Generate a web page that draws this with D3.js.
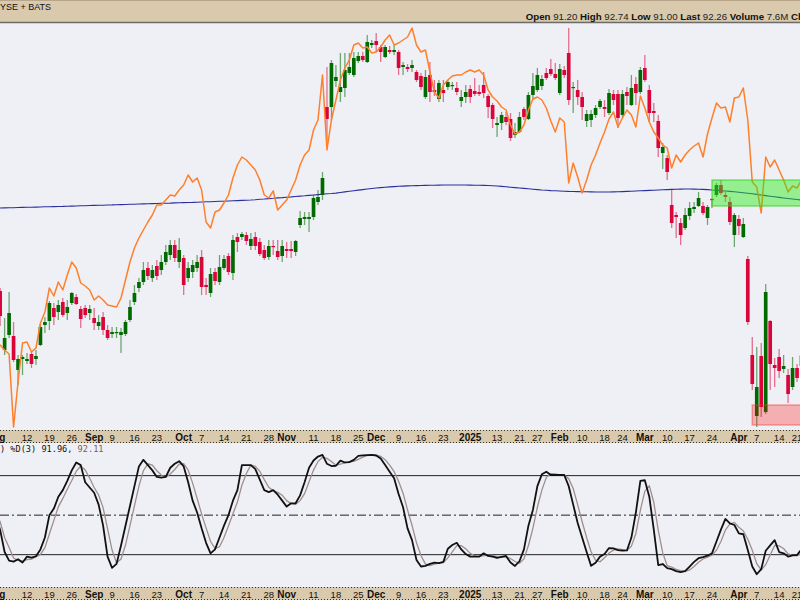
<!DOCTYPE html>
<html><head><meta charset="utf-8">
<script src="https://cdn.jsdelivr.net/npm/d3@7"></script>
<style>body{margin:0;background:#eff0f5;}svg{display:block}</style>
</head><body><svg id="c" width="800" height="600"></svg>
<script>
// ---- categories: trading days (Aug 1 2024 .. Apr 22 2025)
const tradingMonths = ["2024-08","2024-09","2024-10","2024-11","2024-12","2025-01","2025-02","2025-03","2025-04"];
const tradingDays = [
  [1,2,5,6,7,8,9,12,13,14,15,16,19,20,21,22,23,26,27,28,29,30],
  [3,4,5,6,9,10,11,12,13,16,17,18,19,20,23,24,25,26,27,30],
  [1,2,3,4,7,8,9,10,11,14,15,16,17,18,21,22,23,24,25,28,29,30,31],
  [1,4,5,6,7,8,11,12,13,14,15,18,19,20,21,22,25,26,27,29],
  [2,3,4,5,6,9,10,11,12,13,16,17,18,19,20,23,24,26,27,30,31],
  [2,3,6,7,8,10,13,14,15,16,17,21,22,23,24,27,28,29,30,31],
  [3,4,5,6,7,10,11,12,13,14,18,19,20,21,24,25,26,27,28],
  [3,4,5,6,7,10,11,12,13,14,17,18,19,20,21,24,25,26,27,28,31],
  [1,2,3,4,7,8,9,10,11,14,15,16,17,21,22]
];
const dates = tradingMonths.flatMap((m,k)=>tradingDays[k].map(d=>m+"-"+String(d).padStart(2,"0")));

// ---- price series
const open = [100.5,
 98.7,92.8,94.3,94.2,90.8,91.9,
 91.7,92.4,91.9,93.3,95.3,95.7,97.0,96.6,97.6,96.5,
 97.5,98.1,96.9,97.0,96.5,96.0,95.2,96.1,94.8,94.4,
 94.5,94.3,94.4,95.8,97.6,99.0,99.6,101.0,100.0,101.2,
 100.8,101.6,102.3,103.3,101.6,102.0,100.0,100.6,101.0,102.1,
 99.3,98.5,100.6,99.6,101.0,102.2,100.5,104.1,104.1,104.3,
 103.2,104.1,103.6,102.8,102.1,103.2,102.7,102.2,102.9,102.9,
 102.6,105.3,105.9,105.9,106.1,107.6,108.3,117.1,117.1,119.7,
 118.6,119.0,120.5,120.3,121.7,122.2,121.6,123.3,123.7,123.1,
 122.1,122.8,122.6,122.6,121.1,121.1,121.0,120.6,120.2,118.1,
 120.3,118.8,117.9,118.8,119.1,119.2,119.0,117.7,118.1,118.9,
 118.7,118.6,119.3,118.2,117.3,115.3,115.5,116.1,115.9,114.3,
 114.6,116.9,115.9,118.3,118.8,119.2,120.5,120.9,120.4,118.5,
 120.8,122.5,119.0,118.8,118.1,115.7,115.8,116.3,117.1,117.1,
 116.5,118.4,118.4,116.3,118.6,117.3,119.4,118.6,121.0,118.8,
 116.7,115.7,112.5,112.0,107.3,106.3,105.5,105.0,106.2,106.9,
 107.2,107.2,106.0,107.9,108.3,109.3,108.3,107.6,104.3,105.9,
 104.1,101.9,92.3,86.2,92.2,86.6,95.7,91.3,92.1,90.9,
 90.3,89.1,91.0,91.20];
const high = [101.5,
 99.0,96.0,98.6,95.6,92.3,92.3,
 92.5,92.6,92.8,95.4,96.1,97.7,97.5,97.8,98.0,97.8,
 98.6,98.4,97.2,97.3,97.3,97.0,96.3,96.6,95.3,95.1,
 95.1,95.0,95.8,97.8,99.3,100.0,101.6,101.6,101.3,101.8,
 102.3,103.3,103.8,103.8,104.0,102.3,101.6,101.8,102.3,102.8,
 100.0,101.0,101.0,102.3,102.3,102.5,104.3,104.5,104.6,104.6,
 104.5,104.6,104.0,103.3,103.8,103.8,103.8,103.8,103.6,103.7,
 103.8,106.7,106.6,106.6,108.3,108.8,110.6,121.1,121.8,121.3,
 122.5,122.5,122.5,122.6,122.6,122.6,124.3,123.8,124.5,123.3,
 123.3,123.2,123.3,122.8,121.6,121.4,121.8,120.8,120.5,120.8,
 121.6,119.8,119.8,119.8,119.8,119.6,119.6,118.8,119.3,119.3,
 120.0,119.3,120.6,118.4,117.5,116.1,116.6,116.6,116.5,115.5,
 116.6,117.1,118.6,120.5,121.0,120.3,121.0,121.9,121.5,121.4,
 121.2,125.0,119.6,119.8,118.6,116.8,116.8,117.3,117.9,117.8,
 118.9,118.8,118.8,118.8,119.1,120.3,120.1,121.1,122.3,119.3,
 117.5,116.3,113.5,112.3,108.8,106.6,106.0,107.0,107.6,107.6,
 108.6,107.6,107.3,108.0,109.5,109.8,108.6,108.1,106.5,106.3,
 106.0,102.2,94.1,93.1,93.5,99.4,95.8,92.0,92.9,92.3,
 90.9,92.1,91.4,92.74];
const low = [98.0,
 95.2,92.3,94.0,91.6,89.3,90.3,
 91.4,91.0,91.3,93.2,94.5,94.8,95.3,95.8,96.1,95.8,
 97.3,97.3,95.0,96.0,95.8,94.8,94.8,94.3,93.8,94.0,
 94.0,92.5,94.2,95.6,97.3,98.6,99.3,99.8,99.6,99.8,
 100.3,101.3,101.8,101.6,101.0,98.3,99.6,100.0,100.6,98.3,
 98.3,98.1,99.3,99.3,100.8,100.3,99.8,102.6,103.8,103.3,
 102.8,102.8,102.2,101.8,101.8,102.3,101.8,101.6,102.0,102.0,
 102.2,105.0,105.3,104.6,105.8,107.3,107.8,113.3,115.8,119.1,
 117.6,118.1,120.3,120.1,121.5,121.6,121.5,123.0,122.6,121.6,
 122.0,122.4,122.3,120.3,120.3,120.6,120.6,119.6,118.8,117.9,
 117.6,118.2,117.6,117.6,118.8,118.8,118.3,117.1,117.5,117.5,
 118.2,118.2,118.0,116.0,115.0,114.1,114.8,115.3,113.7,114.0,
 114.5,115.8,115.8,117.8,118.6,118.8,119.8,120.2,119.8,118.3,
 120.0,117.3,116.5,117.3,115.8,115.1,115.1,116.0,116.9,116.1,
 116.3,117.3,115.0,116.0,117.3,117.2,117.3,118.4,119.6,115.6,
 115.6,112.1,110.9,109.8,105.0,104.0,103.3,104.8,105.8,106.5,
 107.1,106.3,105.3,107.0,108.1,108.3,107.6,105.3,103.1,104.3,
 104.0,95.3,88.8,85.1,86.1,86.4,88.8,89.1,90.0,90.5,
 87.5,88.8,89.6,91.00];
const close = [99.0,
 96.2,94.0,96.5,91.8,91.9,92.1,
 91.9,91.4,92.2,95.1,95.6,97.5,96.1,97.3,96.3,97.1,
 98.5,97.4,95.9,96.3,96.9,95.5,95.6,94.8,94.0,94.6,
 94.6,94.6,95.6,97.1,98.5,99.6,100.8,100.2,100.8,100.2,
 101.6,102.6,103.3,102.0,102.8,99.3,101.0,101.3,101.6,99.1,
 99.1,100.4,99.7,101.1,101.9,100.6,103.8,103.6,104.4,103.7,
 103.9,103.2,102.4,102.0,103.2,103.1,102.1,103.2,102.7,102.7,
 103.7,106.0,106.1,106.1,108.0,108.1,110.0,115.9,121.5,120.1,
 119.1,120.8,121.1,122.0,122.2,121.8,123.6,123.5,123.3,122.6,
 123.1,122.6,122.8,121.0,121.3,120.9,121.3,119.8,119.1,120.1,
 118.6,118.6,119.5,118.5,119.6,119.3,118.6,118.1,118.6,118.1,
 118.4,118.4,118.5,117.1,115.9,115.5,116.3,115.6,114.0,114.6,
 116.1,116.1,118.3,119.2,120.3,119.9,120.0,120.4,120.0,120.9,
 120.3,117.8,119.1,118.1,117.1,116.4,116.4,117.0,117.7,116.9,
 118.5,117.8,116.0,118.4,118.2,119.0,118.5,120.8,119.8,116.5,
 116.5,113.0,113.1,110.6,105.5,106.1,104.3,106.3,107.0,107.1,
 108.0,106.5,107.1,107.8,109.3,108.5,108.1,105.6,106.3,105.2,
 105.4,95.6,89.4,89.1,87.1,98.6,91.4,91.0,90.7,91.2,
 88.4,91.0,90.0,92.26];
// comparison symbol (orange)
const compare = [93.0,
 93.3,92.8,92.4,85.1,89.6,93.5,
 93.6,92.6,93.0,95.5,96.6,99.0,98.2,99.6,98.8,100.3,
 101.6,101.0,99.5,99.2,98.8,97.8,98.2,97.8,97.3,97.2,
 97.1,98.0,99.8,101.6,103.0,104.0,104.8,105.6,106.3,107.3,
 107.3,107.8,108.3,108.2,108.8,109.3,110.3,109.6,110.0,108.8,
 105.6,105.0,106.6,106.8,107.5,108.3,110.0,111.3,112.1,111.8,
 111.3,110.8,109.8,108.3,108.0,108.7,106.8,107.3,107.8,108.8,
 109.8,111.3,112.3,112.8,114.8,115.8,120.3,112.8,115.8,117.8,
 119.8,121.0,121.8,123.3,123.5,123.0,123.1,122.5,122.6,123.1,
 123.8,124.3,123.3,123.5,123.8,124.1,125.0,123.3,122.6,122.8,
 120.6,118.6,118.0,119.3,119.8,120.2,120.3,120.3,120.6,120.8,
 120.6,120.8,120.3,118.8,118.1,117.7,117.1,116.8,115.3,114.4,
 114.6,115.3,116.8,117.9,118.1,117.8,117.0,115.7,114.6,116.0,
 115.6,109.5,111.5,110.1,108.5,109.8,111.3,112.3,113.5,114.6,
 115.9,116.6,115.1,116.0,116.8,116.3,115.1,118.2,117.0,115.6,
 114.6,114.0,113.3,113.0,111.0,112.3,111.6,112.3,112.8,113.2,
 113.5,112.1,114.4,116.0,117.5,117.0,117.1,115.6,118.0,118.1,
 119.0,115.8,109.6,109.1,106.5,112.1,111.1,111.8,110.8,109.8,
 108.6,109.2,109.0,109.8];
// 200-day moving average
const ma200 = [106.99,
 107.00,107.01,107.02,107.03,107.05,107.06,107.07,107.08,107.09,107.10,107.12,107.13,107.14,107.15,107.16,107.18,107.19,107.20,107.22,107.23,107.25,107.26,
 107.27,107.28,107.30,107.31,107.33,107.34,107.35,107.37,107.38,107.40,107.41,107.42,107.44,107.45,107.47,107.48,107.49,107.51,107.52,107.54,107.55,107.56,107.58,
 107.60,107.62,107.63,107.65,107.67,107.68,107.70,107.72,107.74,107.76,107.78,
 107.80,107.83,107.87,107.90,107.94,107.97,108.01,108.04,108.08,108.11,108.15,108.19,
 108.22,108.26,108.30,108.34,108.38,108.42,108.45,108.49,
 108.55,108.61,108.67,108.73,108.79,108.84,108.90,108.95,
 109.00,109.04,109.08,109.11,109.14,109.17,109.19,
 109.21,109.23,109.24,109.25,109.26,109.27,109.28,109.29,109.30,109.30,109.30,109.30,109.30,109.30,109.29,109.28,109.27,109.26,109.25,109.23,
 109.20,109.16,109.12,109.08,109.04,109.00,108.96,108.92,108.88,108.84,108.80,108.77,108.74,108.72,
 108.70,108.68,108.66,108.65,108.64,108.63,108.62,108.61,108.60,108.60,108.60,108.60,108.61,108.62,
 108.64,108.66,108.68,108.70,108.72,108.74,108.76,108.78,108.80,108.82,
 108.84,108.86,108.88,108.89,108.90,108.90,108.89,108.88,108.86,108.84,
 108.80,108.77,108.74,108.70,108.66,108.62,108.58,108.53,
 108.48,108.42,108.36,108.30,108.24,108.18,108.12,108.06,
 108.00,107.95,107.90,107.85,107.80];
// stochastics
const stochK = [50,
 38.7,22,15.5,14.7,16.5,14,
 18.5,17.7,18.8,24,33,50,55,64,69,76,
 84,90,88,75,71,67,58,42,18.5,10,
 13,27,42,57,72,87,92,88,84,79,
 78.5,79,86,89,91,87,75,61,52,40,
 29,21,24,33,42,50,61,69,88,88,
 88,85,77,69,67.5,69,65.5,61,56.5,59,
 59,65,75,86,91.5,94.5,95.7,89,87.3,87.5,
 91.4,90,90.3,92,95,95.4,95.6,95.7,95.3,93,
 88,83,78,66,56,40,31,16,11,11.5,
 13,13.9,13.5,14.5,24.5,27.3,29,24,20.5,18.5,
 18.5,18.5,21,19,18.5,17.5,18.3,19,14,11.4,
 15,24,42,54,72,81,83,80.5,80.5,80.5,
 80.5,72,58,44,33,22,11.5,13.9,18.5,20.5,
 25,24.8,23.5,23,23.2,33,52,76,76.5,64,
 39,12.1,12.9,9.8,9,7.5,6.8,7.5,11,14.5,
 17.3,18.2,19.2,21,30,39,47.1,43.8,42.5,36.2,
 35.5,23.5,11,5.1,9,23,27,31,22,21,
 18.5,19.5,19.7,24];
const stochD = [52,
 45,33,25.4,17.4,15.6,15.1,
 16.3,16.7,18.3,20.2,25.3,35.7,46,56.3,62.7,69.7,
 76.3,83.3,87.3,84.3,78,71,65.3,55.7,39.5,23.5,
 13.8,16.7,27.3,42,57,72,83.7,89,88,83.7,
 80.5,78.8,81.2,84.7,88.7,89,84.3,74.3,62.7,51,
 40.3,30,24.7,26,33,41.7,51,60,72.7,81.7,
 88,87,83.3,77,71.2,68.5,67.3,65.2,61,58.8,
 58.2,61,66.3,75.3,84.2,90.7,93.9,93.1,90.7,87.9,
 88.7,89.6,90.6,90.8,92.4,94.1,95.3,95.6,95.5,94.7,
 92.1,88,83,75.7,66.7,54,42.3,29,19.3,12.8,
 11.8,12.8,13.5,14,17.5,22.1,26.9,26.8,24.5,21,
 19.2,18.5,19.3,19.5,19.5,18.3,18.1,18.3,17.1,14.8,
 13.5,16.8,27,40,56,69,78.7,81.5,81.3,80.5,
 80.5,77.7,70.2,58,45,33,22.2,15.8,14.6,17.6,
 21.3,23.4,24.4,23.8,23.2,26.4,36.1,53.7,68.2,72.2,
 59.8,38.4,21.3,11.6,10.6,8.8,7.8,7.3,8.4,11,
 14.3,16.7,18.2,19.5,23.4,30,38.7,43.3,44.5,40.8,
 38.1,31.7,23.3,13.2,8.4,12.4,19.7,27,26.7,24.7,
 20.5,19.7,19.2,21.1];
const stochLevels = [80, 50, 20];

// ---- axis labels
const tickDates = ["2024-08-01","2024-08-12","2024-08-19","2024-08-26","2024-09-03","2024-09-09","2024-09-16","2024-09-23",
 "2024-10-01","2024-10-07","2024-10-14","2024-10-21","2024-10-28","2024-11-01","2024-11-11","2024-11-18","2024-11-25",
 "2024-12-02","2024-12-09","2024-12-16","2024-12-23","2025-01-02","2025-01-13","2025-01-21","2025-01-27",
 "2025-02-03","2025-02-10","2025-02-18","2025-02-24","2025-03-03","2025-03-10","2025-03-17","2025-03-24",
 "2025-04-01","2025-04-07","2025-04-14","2025-04-21"];
const tickLabels = ["Aug","12","19","26","Sep","9","16","23","Oct","7","14","21","28","Nov","11","18","25",
 "Dec","9","16","23","2025","13","21","27","Feb","10","18","24","Mar","10","17","24","Apr","7","14","21"];
const tickMajor = ["Aug","Sep","Oct","Nov","Dec","2025","Feb","Mar","Apr"];

// ---- zones
const zoneStart = ["2025-03-24","2025-04-04"];
const zoneTop = [109.8, 87.3];
const zoneBottom = [107.2, 85.3];
const zoneKind = ["supply","demand"];

// ---- header texts
const exchange = "NYSE + BATS";
const quoteLabels = ["Open","High","Low","Last","Volume","Chg"];
const quoteValues = ["91.20","92.74","91.00","92.26","7.6M",""];
const stochPrefix = "%K(14";
const stochText = ") %D(3) 91.96, ";
const stochLast = "92.11";

// ================= drawing
const svg = d3.select("#c");
const W = 800;
const TAN = "#d9c9ad";
const step = 4.477;
const xb = d3.scaleBand().domain(dates).range([27 - 7.5*step, 27 - 7.5*step + dates.length*step]).paddingInner(0.18).paddingOuter(0.09);
const cx = d => xb(d) + xb.bandwidth()/2;

const mainTop = 23, mainBot = 430;
const y = d3.scaleLinear().domain([85.0, 125.6]).range([428, 22]);
const stTop = 443, stBot = 587;
const ys = d3.scaleLinear().domain([0, 100]).range([581, 449.3]);

svg.append("rect").attr("x",0).attr("y",0).attr("width",W).attr("height",600).attr("fill","#eff0f5");

const defs = svg.append("defs");
defs.append("clipPath").attr("id","clipMain").append("rect").attr("x",0).attr("y",mainTop).attr("width",W).attr("height",mainBot-mainTop);
defs.append("clipPath").attr("id","clipSt").append("rect").attr("x",0).attr("y",stTop).attr("width",W).attr("height",stBot-stTop);

const gMain = svg.append("g").attr("clip-path","url(#clipMain)");
const idx = d3.range(dates.length);

// MA line
gMain.append("path").datum(idx).attr("fill","none").attr("stroke","#2b2f9c").attr("stroke-width",1.1)
  .attr("d", d3.line().x(i=>cx(dates[i])).y(i=>y(ma200[i])));

// candles
const GREEN = "#006a00", RED = "#d9043a";
const cg = gMain.append("g");
idx.forEach(i=>{
  const up = close[i] >= open[i];
  const col = up ? GREEN : RED;
  const xc = cx(dates[i]);
  cg.append("line").attr("x1",xc).attr("x2",xc).attr("y1",y(high[i])).attr("y2",y(low[i]))
    .attr("stroke",col).attr("stroke-opacity",0.55).attr("stroke-width",1.3);
  const top = y(Math.max(open[i],close[i])), bot = y(Math.min(open[i],close[i]));
  cg.append("rect").attr("x",xb(dates[i])).attr("width",xb.bandwidth())
    .attr("y",top).attr("height",Math.max(1.2, bot-top)).attr("fill",col);
});

// compare line (orange)
gMain.append("path").datum(idx).attr("fill","none").attr("stroke","#ff7f2a").attr("stroke-width",1.5)
  .attr("stroke-linejoin","round")
  .attr("d", d3.line().x(i=>cx(dates[i])).y(i=>y(compare[i])));

// zones
zoneStart.forEach((d,k)=>{
  const green = zoneKind[k]==="supply";
  gMain.append("rect").attr("x",cx(d)).attr("width",W + 10 - cx(d))
    .attr("y",y(zoneTop[k])).attr("height",y(zoneBottom[k])-y(zoneTop[k]))
    .attr("fill", green ? "rgba(40,235,20,0.45)" : "rgba(255,0,0,0.27)")
    .attr("stroke", green ? "rgba(40,210,20,0.55)" : "rgba(240,60,60,0.45)").attr("stroke-width",1.5);
});

// header
svg.append("rect").attr("x",0).attr("y",0).attr("width",W).attr("height",22).attr("fill",TAN);
svg.append("line").attr("x1",0).attr("x2",W).attr("y1",0.5).attr("y2",0.5).attr("stroke","#b8a58a");
svg.append("line").attr("x1",0).attr("x2",W).attr("y1",22.5).attr("y2",22.5).attr("stroke","#6b6b6b").attr("stroke-width",1.6);
const ex = svg.append("text").attr("y",10).attr("font-family","Liberation Sans, Arial").attr("font-size",9).attr("fill","#111").text(exchange);
const nW = (()=>{const t=svg.append("text").attr("font-family","Liberation Sans, Arial").attr("font-size",9).text(exchange[0]);const w=t.node().getComputedTextLength();t.remove();return w;})();
ex.attr("x",-nW);
const q = svg.append("text").attr("x",525.7).attr("y",20).attr("font-family","Liberation Sans, Arial").attr("font-size",9.7).attr("fill","#111");
quoteLabels.forEach((l,k)=>{
  q.append("tspan").attr("font-weight","bold").text(l + (quoteValues[k] ? " " : ""));
  if (quoteValues[k]) q.append("tspan").attr("fill","#222").text(quoteValues[k] + "  ");
});

// axis bands
function axisBand(top, bot, baseline){
  svg.append("rect").attr("x",0).attr("y",top).attr("width",W).attr("height",bot-top).attr("fill",TAN);
  [top+0.5, bot-0.5].forEach(yy=>svg.append("line").attr("x1",0).attr("x2",W).attr("y1",yy).attr("y2",yy)
    .attr("stroke","#333").attr("stroke-width",1).attr("stroke-dasharray","1,2"));
  const g = svg.append("g");
  tickDates.forEach((d,k)=>{
    const major = tickMajor.includes(tickLabels[k]);
    g.append("text").attr("x",cx(d)).attr("y",baseline).attr("text-anchor","middle")
      .attr("font-family","Liberation Sans, Arial").attr("font-size",major?10:9.5)
      .attr("font-weight",major?"bold":"normal").attr("fill","#111").text(tickLabels[k]);
  });
}
axisBand(430, 443, 441);
axisBand(587, 600, 598);

// stochastic panel
const gSt = svg.append("g").attr("clip-path","url(#clipSt)");
stochLevels.forEach(v=>{
  gSt.append("line").attr("x1",0).attr("x2",W).attr("y1",ys(v)).attr("y2",ys(v))
    .attr("stroke","#222").attr("stroke-width",1)
    .attr("stroke-dasharray", v===50 ? "9,3,2,3" : null);
});
gSt.append("path").datum(idx).attr("fill","none").attr("stroke","#a08e8e").attr("stroke-width",1.3)
  .attr("d", d3.line().x(i=>cx(dates[i])).y(i=>ys(stochD[i])));
gSt.append("path").datum(idx).attr("fill","none").attr("stroke","#111").attr("stroke-width",1.8)
  .attr("stroke-linejoin","round")
  .attr("d", d3.line().x(i=>cx(dates[i])).y(i=>ys(stochK[i])));
const sf = "DejaVu Sans Mono, monospace";
const pre = svg.append("text").attr("font-family",sf).attr("font-size",8.6).text(stochPrefix);
const pw = pre.node().getComputedTextLength(); pre.remove();
const st = svg.append("text").attr("x",-pw).attr("y",452).attr("font-family",sf).attr("font-size",8.6).attr("fill","#111");
st.append("tspan").text(stochPrefix + stochText);
st.append("tspan").attr("fill","#7a5a5a").text(stochLast);
</script></body></html>
